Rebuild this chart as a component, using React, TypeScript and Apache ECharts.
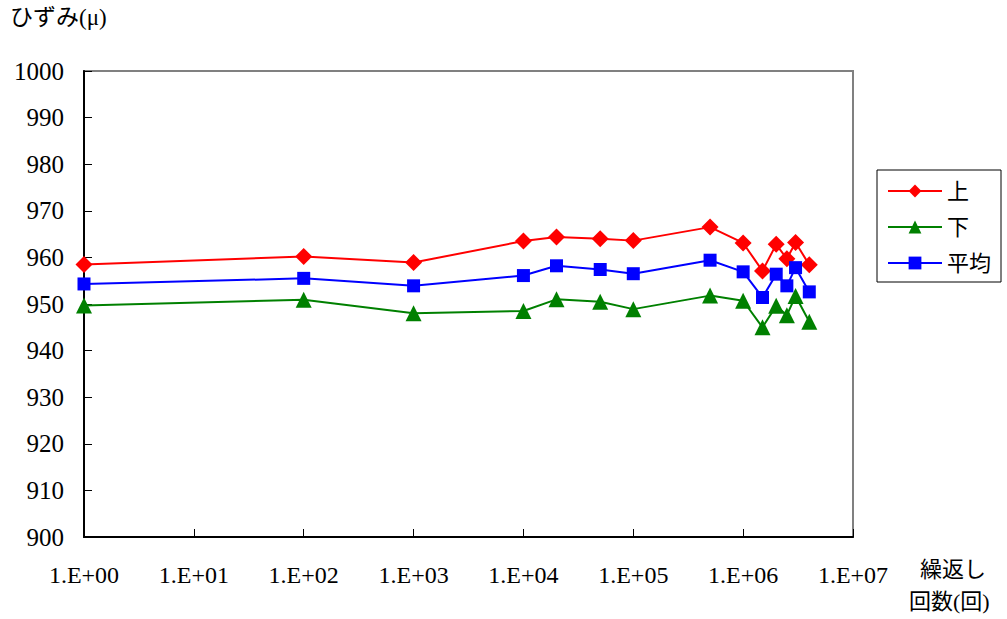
import React, { useEffect, useRef } from "react";
import * as echarts from "echarts";

const cycles = [1, 1e2, 1e3, 1e4, 2e4, 5e4, 1e5, 5e5, 1e6, 1.5e6, 2e6, 2.5e6, 3e6, 4e6];
const upper = [958.5, 960.2, 958.9, 963.5, 964.4, 964.0, 963.6, 966.5, 963.1, 957.1, 962.8, 959.7, 963.2, 958.4];
const lower = [949.7, 950.9, 948.0, 948.5, 951.0, 950.5, 948.9, 951.8, 950.7, 945.0, 949.6, 947.6, 951.7, 946.2];
const average = [954.3, 955.5, 953.9, 956.1, 958.2, 957.4, 956.5, 959.4, 956.9, 951.4, 956.4, 953.9, 957.8, 952.6];
const seriesNames = ["上", "下", "平均"];
const yTitle = "ひずみ(μ)";
const xTitle1 = "繰返し";
const xTitle2 = "回数(回)";

const FONT = "Liberation Serif, Noto Sans CJK JP, serif";

export default function App() {
  const ref = useRef<HTMLDivElement>(null);
  useEffect(() => {
    if (!ref.current) return;
    const chart = echarts.init(ref.current, null, { renderer: "svg" });
    const mk = (vals: number[]) => cycles.map((c, i) => [c, vals[i]]);
    chart.setOption({
      animation: false,
      backgroundColor: "#ffffff",
      textStyle: { fontFamily: FONT, color: "#000" },
      grid: {
        left: 84,
        right: 154,
        top: 71,
        bottom: 82,
        show: true,
        borderColor: "#808080",
        borderWidth: 2,
      },
      legend: {
        orient: "vertical",
        left: 877,
        top: 170,
        width: 127,
        itemWidth: 54,
        itemHeight: 16,
        itemGap: 14,
        padding: [10, 10, 8, 10],
        borderColor: "#000",
        borderWidth: 1,
        textStyle: { fontFamily: FONT, fontSize: 22, color: "#000" },
        data: seriesNames,
      },
      xAxis: {
        type: "log",
        logBase: 10,
        min: 1,
        max: 1e7,
        axisLine: { lineStyle: { color: "#000", width: 2 } },
        axisTick: { inside: true, length: 8, lineStyle: { color: "#000" } },
        splitLine: { show: false },
        minorTick: { show: false },
        axisLabel: {
          margin: 26,
          fontFamily: FONT,
          fontSize: 24,
          color: "#000",
          formatter: (v: number) => {
            const e = Math.round(Math.log10(v));
            return "1.E+" + (e < 10 ? "0" + e : "" + e);
          },
        },
      },
      yAxis: {
        type: "value",
        min: 900,
        max: 1000,
        interval: 10,
        axisLine: { show: true, lineStyle: { color: "#000", width: 2 } },
        axisTick: { show: true, inside: true, length: 8, lineStyle: { color: "#000" } },
        splitLine: { show: false },
        axisLabel: {
          margin: 20,
          fontFamily: FONT,
          fontSize: 25,
          color: "#000",
          formatter: (v: number) => String(v),
        },
      },
      graphic: [
        { type: "text", left: 10, top: 6, style: { text: yTitle, fontFamily: FONT, fontSize: 23, fill: "#000" } },
        { type: "text", left: 920, top: 558, style: { text: xTitle1, fontFamily: FONT, fontSize: 22, fill: "#000" } },
        { type: "text", left: 909, top: 590, style: { text: xTitle2, fontFamily: FONT, fontSize: 22, fill: "#000" } },
      ],
      series: [
        {
          name: seriesNames[0],
          type: "line",
          data: mk(upper),
          symbol: "diamond",
          symbolSize: 17,
          itemStyle: { color: "#ff0000" },
          lineStyle: { color: "#ff0000", width: 2 },
        },
        {
          name: seriesNames[1],
          type: "line",
          data: mk(lower),
          symbol: "triangle",
          symbolSize: 16,
          itemStyle: { color: "#008000" },
          lineStyle: { color: "#008000", width: 2 },
        },
        {
          name: seriesNames[2],
          type: "line",
          data: mk(average),
          symbol: "rect",
          symbolSize: 13,
          itemStyle: { color: "#0000ff" },
          lineStyle: { color: "#0000ff", width: 2 },
        },
      ],
    });
    return () => chart.dispose();
  }, []);
  return <div ref={ref} style={{ position: "fixed", left: 0, top: 0, width: 1007, height: 619 }} />;
}
